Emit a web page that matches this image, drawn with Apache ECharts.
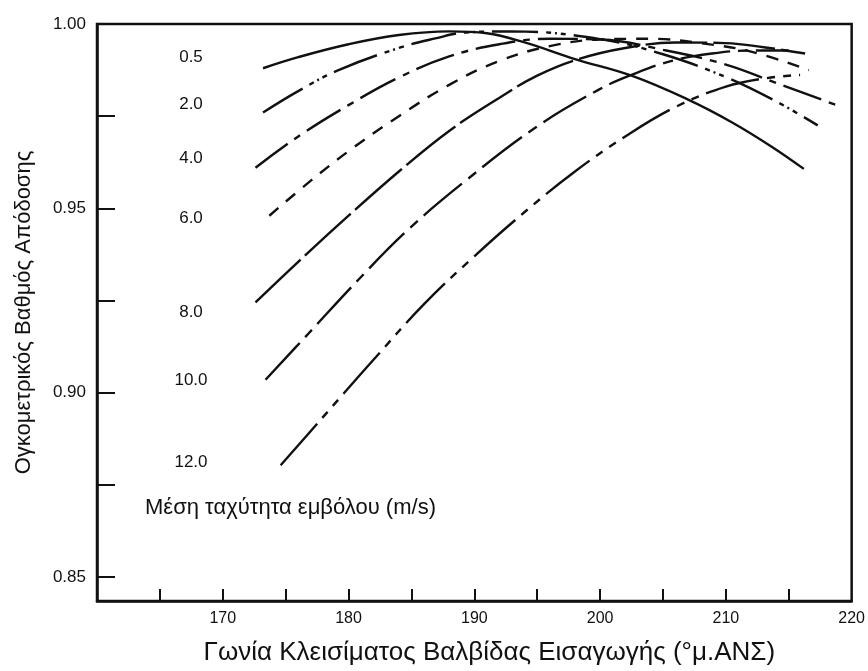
<!DOCTYPE html>
<html>
<head>
<meta charset="utf-8">
<script src="https://cdn.jsdelivr.net/npm/echarts@6/dist/echarts.min.js"></script>
<style>
  html, body { margin: 0; padding: 0; background: #fff; }
  #chart { width: 868px; height: 671px; }
</style>
</head>
<body>
<div id="chart"></div>
<script>
// mean piston speed (m/s) for each curve
const speeds = ['0.5', '2.0', '4.0', '6.0', '8.0', '10.0', '12.0'];

// [intake valve closing angle, volumetric efficiency]
const v05 = [[173.2, 0.988], [176, 0.991], [180, 0.9945], [184, 0.997], [188, 0.998], [191, 0.9975],
  [194, 0.995], [198, 0.9905], [202.5, 0.986], [207, 0.9795], [210.5, 0.9733], [213.7, 0.9666], [216.2, 0.9607]];
const v20 = [[173.2, 0.976], [176.1, 0.982], [179.2, 0.9875], [184, 0.9935], [186.9, 0.9961], [189.3, 0.9977],
  [193, 0.998], [200, 0.9959], [205, 0.9918], [210, 0.9856], [214, 0.979], [217.3, 0.9725]];
const v40 = [[172.6, 0.961], [176, 0.9695], [180, 0.978], [184, 0.9855], [188, 0.9912], [192, 0.9945],
  [196, 0.996], [200, 0.9958], [205, 0.993], [210, 0.989], [214, 0.984], [218.8, 0.978]];
const v60 = [[173.7, 0.948], [177, 0.9575], [180, 0.9655], [184, 0.975], [188, 0.9835], [192, 0.990],
  [196, 0.994], [200, 0.9958], [204, 0.996], [208, 0.9948], [212, 0.9925], [216.6, 0.9875]];
const v80 = [[172.6, 0.9245], [176, 0.9355], [180, 0.948], [184, 0.960], [188, 0.971], [192, 0.980],
  [195, 0.986], [198.3, 0.9905], [202, 0.9935], [206, 0.995], [210, 0.9948], [213, 0.9937], [216.3, 0.992]];
const v100 = [[173.4, 0.9035], [176.8, 0.916], [180.8, 0.9307], [184.6, 0.9438], [189.2, 0.9572], [194.9, 0.972],
  [199.9, 0.9822], [202.5, 0.9862], [205.7, 0.990], [208.9, 0.992], [212, 0.9928], [215, 0.9928]];
const v120 = [[174.6, 0.8803], [178, 0.8935], [182, 0.909], [186, 0.924], [190, 0.937], [194, 0.949],
  [198, 0.960], [202, 0.9695], [206, 0.9775], [210, 0.983], [213, 0.9852], [215.9, 0.9862]];

const curves = [v05, v20, v40, v60, v80, v100, v120];

// tick positions and labels
const xTicks = [165, 170, 175, 180, 185, 190, 195, 200, 205, 210, 215];
const xLabels = [170, 180, 190, 200, 210, 220];
const yTicks = [0.85, 0.875, 0.9, 0.925, 0.95, 0.975];
const yLabels = [0.85, 0.9, 0.95, 1.0];

const ink = '#111';
const font = 'Liberation Sans';

// dash patterns, one per curve
const dashes = [
  'solid',
  [46, 8, 5, 4, 2, 4, 5, 8],
  [40, 8, 7, 8],
  [12, 10],
  [62, 6],
  [50, 8, 10, 8],
  [55, 8, 8, 8, 8, 8]
];

// label spots left of each curve (pixels)
const labelY = [57, 104, 158, 218, 312, 380, 462];

const chart = echarts.init(document.getElementById('chart'));

const option = {
  backgroundColor: '#fff',
  animation: false,
  grid: {
    left: 97, right: 11, top: 24, bottom: 64,
    show: true, borderColor: ink, borderWidth: 2.5
  },
  xAxis: {
    type: 'value', min: 160, max: 220,
    name: 'Γωνία Κλεισίματος Βαλβίδας Εισαγωγής (°μ.ΑΝΣ)',
    nameLocation: 'middle', nameGap: 39,
    nameTextStyle: { fontFamily: font, fontSize: 26, color: ink, padding: [0, 0, 0, 30] },
    axisLine: { show: true, lineStyle: { color: ink, width: 2.5 } },
    axisTick: { show: true, inside: true, length: 12, customValues: xTicks, lineStyle: { color: ink, width: 2 } },
    axisLabel: { customValues: xLabels, fontFamily: font, fontSize: 16, color: ink, margin: 10 },
    splitLine: { show: false }
  },
  yAxis: {
    type: 'value', min: 0.8435, max: 1.0,
    name: 'Ογκομετρικός Βαθμός Απόδοσης',
    nameLocation: 'middle', nameGap: 62,
    nameTextStyle: { fontFamily: font, fontSize: 22, color: ink },
    axisLine: { show: true, lineStyle: { color: ink, width: 2.5 } },
    axisTick: { show: true, inside: true, length: 18, customValues: yTicks, lineStyle: { color: ink, width: 2 } },
    axisLabel: {
      customValues: yLabels, fontFamily: font, fontSize: 17, color: ink, margin: 11,
      formatter: v => v.toFixed(2)
    },
    splitLine: { show: false }
  },
  series: curves.map((d, i) => ({
    name: speeds[i],
    type: 'line',
    data: d,
    smooth: 0.4,
    showSymbol: false,
    lineStyle: { color: ink, width: 2.4, type: dashes[i], cap: 'butt' }
  })),
  graphic: speeds.map((s, i) => ({
    type: 'text', x: 191, y: labelY[i],
    style: { text: s, fontFamily: font, fontSize: 17, fill: ink, textAlign: 'center', textVerticalAlign: 'middle' }
  })).concat([{
    type: 'text', x: 145, y: 508,
    style: { text: 'Μέση ταχύτητα εμβόλου (m/s)', fontFamily: font, fontSize: 22, fill: ink, textVerticalAlign: 'middle' }
  }])
};

chart.setOption(option);
</script>
</body>
</html>
